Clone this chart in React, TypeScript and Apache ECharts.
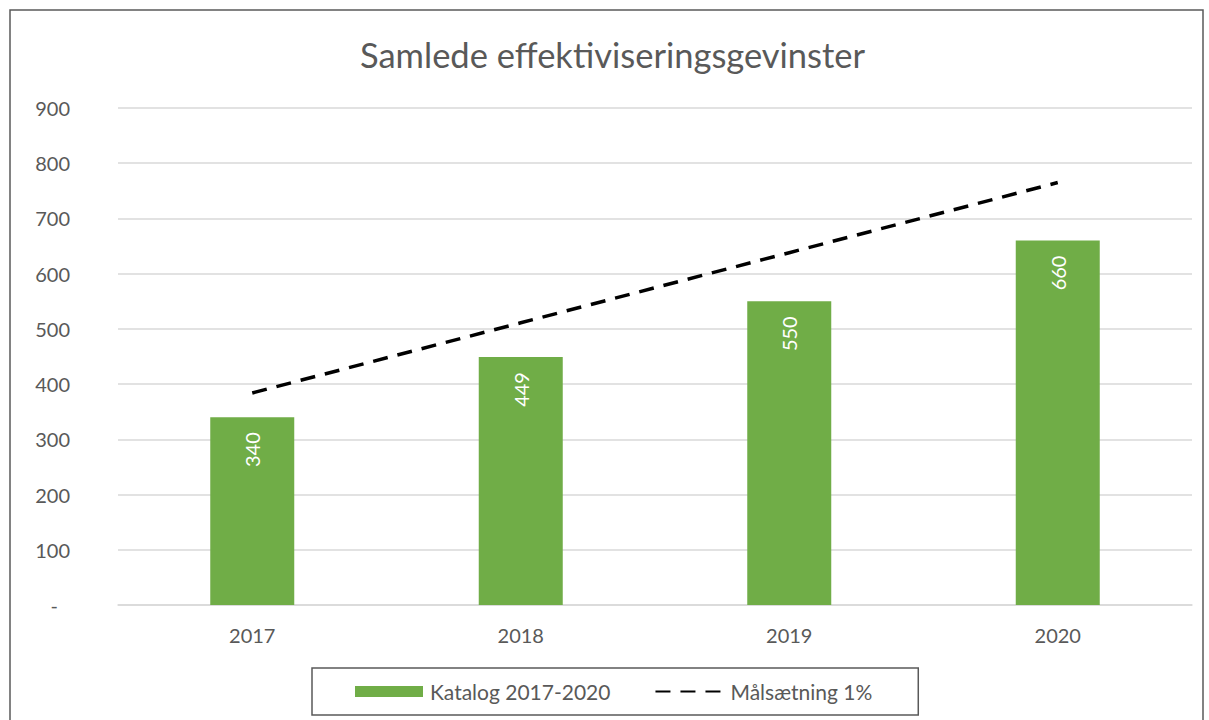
import React, { useEffect, useRef } from "react";
import * as echarts from "echarts";

const categories = ["2017", "2018", "2019", "2020"];
const katalog = [340, 449, 550, 660];
const maal = [384, 511, 638, 765];
const titleText = "Samlede effektiviseringsgevinster";
const seriesNames = ["Katalog 2017-2020", "Målsætning 1%"];

const FONT = "Lato, 'Open Sans', sans-serif";
const GREY = "#595959";

export default function App() {
  const ref = useRef<HTMLDivElement>(null);
  useEffect(() => {
    const chart = echarts.init(ref.current!, null, { renderer: "svg" });
    chart.setOption({
      animation: false,
      textStyle: { fontFamily: FONT },
      title: {
        text: titleText,
        left: 355,
        top: 32,
        textStyle: { fontFamily: FONT, fontSize: 34.5, fontWeight: "normal", color: GREY },
      },
      graphic: [
        {
          type: "rect",
          shape: { x: 10, y: 10, width: 1193, height: 720 },
          style: { fill: "none", stroke: "#595959", lineWidth: 1.5 },
          silent: true,
        },
      ],
      grid: { left: 118, right: 17, top: 108, bottom: 115 },
      legend: {
        left: 312,
        top: 668,
        padding: [13, 46, 13, 43],
        borderColor: "#595959",
        borderWidth: 1.5,
        itemGap: 44,
        itemWidth: 68,
        itemHeight: 11,
        textStyle: { fontFamily: FONT, fontSize: 21, color: GREY, padding: [0, 0, 0, 2] },
        data: [
          { name: seriesNames[0], icon: "rect" },
          { name: seriesNames[1], itemStyle: { opacity: 0 } },
        ],
      },
      xAxis: {
        type: "category",
        data: categories,
        axisLine: { lineStyle: { color: "#d9d9d9", width: 1.5 } },
        axisTick: { show: false },
        axisLabel: { fontSize: 20, color: GREY, margin: 20, fontFamily: FONT },
      },
      yAxis: {
        type: "value",
        min: 0,
        max: 900,
        interval: 100,
        axisLine: { show: false },
        axisTick: { show: false },
        splitLine: { lineStyle: { color: "#d9d9d9", width: 1.5 } },
        axisLabel: {
          fontSize: 20,
          color: GREY,
          margin: 48,
          fontFamily: FONT,
          formatter: (v: number) => (v === 0 ? "{d|-}" : String(v)),
          rich: { d: { fontSize: 20, color: GREY, padding: [0, 12, 0, 0] } },
        },
      },
      series: [
        {
          name: seriesNames[0],
          type: "bar",
          data: katalog,
          barWidth: 84,
          itemStyle: { color: "#70ad47" },
          label: {
            show: true,
            position: "insideTop",
            rotate: 90,
            align: "right",
            verticalAlign: "middle",
            distance: 15,
            color: "#ffffff",
            fontSize: 20,
            fontFamily: FONT,
          },
        },
        {
          name: seriesNames[1],
          type: "line",
          data: maal,
          symbol: "none",
          lineStyle: { color: "#000000", width: 3.5, type: [15, 10] },
          itemStyle: { color: "#000000" },
        },
      ],
    });
    return () => chart.dispose();
  }, []);
  return (
    <div
      ref={ref}
      style={{ position: "fixed", left: 0, top: 0, width: 1209, height: 720, background: "#fff" }}
    />
  );
}
